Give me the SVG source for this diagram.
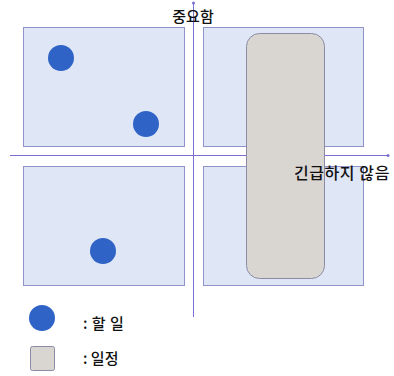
<svg xmlns="http://www.w3.org/2000/svg" width="394" height="376" viewBox="0 0 394 376">
<style>
.q{fill:#dfe6f6;stroke:#8f93c9;stroke-width:1}
.ax{stroke:#7a70d2;stroke-width:1;fill:none}
.dot{fill:#2f63c6}
.lb{font-family:"Noto Sans CJK KR","Noto Sans",sans-serif;font-size:15px;font-weight:500;fill:#111}
</style>
<defs>
<marker id="end" markerWidth="4" markerHeight="4" refX="2" refY="2" markerUnits="userSpaceOnUse"><circle cx="2" cy="2" r="1.5" fill="#7a70d2"/></marker>
</defs>
<rect width="394" height="376" fill="#ffffff"/>
<g id="quadrants">
<rect id="q1" class="q" x="23.5" y="27.5" width="161" height="119"/>
<rect id="q2" class="q" x="203.5" y="27.5" width="160" height="119"/>
<rect id="q3" class="q" x="23.5" y="166.5" width="161" height="119"/>
<rect id="q4" class="q" x="203.5" y="166.5" width="160" height="119"/>
</g>
<g id="connectors">
<line class="ax" x1="193.5" y1="317" x2="193.5" y2="3" marker-end="url(#end)"/>
<line class="ax" x1="10" y1="155.5" x2="388" y2="155.5" marker-end="url(#end)"/>
</g>
<g id="schedule">
<rect x="246.5" y="33.5" width="78" height="245" rx="13" fill="#d9d5d1" stroke="#8b8ba8" stroke-width="1"/>
</g>
<g id="tasks">
<circle class="dot" cx="61" cy="58" r="13"/>
<circle class="dot" cx="146" cy="124" r="13"/>
<circle class="dot" cx="103" cy="251" r="13"/>
</g>
<g id="labels">
<text class="lb" x="193" y="22" text-anchor="middle">중요함</text>
<text class="lb" x="390" y="179" text-anchor="end" style="font-size:16px;letter-spacing:0.6px">긴급하지 않음</text>
</g>
<g id="legend">
<circle class="dot" cx="42" cy="318" r="13"/>
<text class="lb" x="83" y="329" style="letter-spacing:0.5px">: 할 일</text>
<rect x="30.5" y="346.5" width="24" height="24" rx="2" fill="#d9d6d2" stroke="#8b8ba8"/>
<text class="lb" x="83" y="364">: 일정</text>
</g>
</svg>
